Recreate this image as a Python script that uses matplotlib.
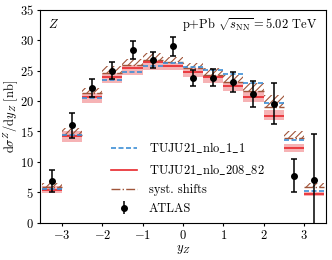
import numpy as np
import matplotlib
matplotlib.use("Agg")
import matplotlib.pyplot as plt
from matplotlib.lines import Line2D

plt.rcParams["font.family"] = ["cmr10", "DejaVu Serif"]
plt.rcParams["mathtext.fontset"] = "cm"
plt.rcParams["axes.formatter.use_mathtext"] = True
plt.rcParams["font.size"] = 9
plt.rcParams["hatch.linewidth"] = 0.8

# rapidity bins
y_centers = [-3.25, -2.75, -2.25, -1.75, -1.25, -0.75, -0.25,
             0.25, 0.75, 1.25, 1.75, 2.25, 2.75, 3.25]
bin_width = 0.5

# ATLAS data
atlas = [6.9, 16.0, 22.1, 25.0, 28.4, 26.7, 29.0, 23.8, 23.8, 23.2, 21.2, 19.6, 7.7, 7.0]
atlas_err = [1.8, 2.0, 1.5, 1.35, 1.45, 1.3, 1.55, 1.35, 1.4, 1.65, 2.1, 3.45, 2.7, 7.6]

# TUJU21_nlo_208_82 (central + band)
npdf = [5.4, 14.3, 20.6, 24.0, 25.4, 26.5, 25.8, 24.85, 23.9, 22.4, 20.6, 17.6, 12.3, 4.75]
npdf_lo = [4.9, 13.2, 19.7, 22.9, 24.3, 25.1, 25.1, 24.0, 22.9, 21.6, 19.9, 16.9, 11.7, 4.45]
npdf_hi = [6.0, 15.0, 21.3, 24.6, 25.95, 26.8, 26.3, 25.4, 24.3, 23.2, 21.6, 18.5, 12.95, 5.05]

# TUJU21_nlo_1_1 central
proton = [5.6, 14.5, 20.5, 23.5, 24.85, 25.8, 26.2, 25.55, 25.1, 24.4, 23.0, 19.65, 13.6, 5.2]

# syst. shifts envelope
syst_lo = [5.8, 14.5, 21.3, 24.6, 25.9, 26.8, 26.5, 25.4, 24.3, 23.2, 21.6, 19.1, 13.9, 5.9]
syst_hi = [6.6, 15.5, 22.1, 25.7, 27.0, 27.9, 27.3, 26.3, 25.4, 24.3, 22.9, 21.0, 15.0, 6.6]

c_blue = "#3d8fd6"
c_red = "#e8262b"
c_brown = "#a0553a"

x = np.array(y_centers)
x0 = x - bin_width / 2
x1 = x + bin_width / 2

fig = plt.figure(figsize=(3.32, 2.6), dpi=100)
ax = fig.add_axes([0.12, 0.1435, 0.862, 0.8185])

ax.bar(x, np.array(syst_hi) - np.array(syst_lo), bottom=syst_lo, width=bin_width,
       color="none", edgecolor=c_brown, hatch="/////", linewidth=0, zorder=2)
ax.bar(x, np.array(npdf_hi) - np.array(npdf_lo), bottom=npdf_lo, width=bin_width,
       color=c_red, alpha=0.35, linewidth=0, zorder=1)
ax.hlines(syst_lo, x0, x1, colors=c_brown, linestyles="-.", linewidth=1.0, zorder=3)
ax.hlines(npdf, x0, x1, colors=c_red, linewidth=1.2, zorder=3)
ax.hlines(proton, x0, x1, colors=c_blue, linestyles=(0, (3, 1.5)), linewidth=1.2, zorder=3)
ax.errorbar(x, atlas, yerr=atlas_err, fmt="o", color="black", markersize=4,
            capsize=2, elinewidth=1.1, capthick=1.1, zorder=5)

ax.set_xlim(-3.55, 3.55)
ax.set_ylim(0, 35)
ax.set_xticks([-3, -2, -1, 0, 1, 2, 3])
ax.set_yticks([0, 5, 10, 15, 20, 25, 30, 35])
ax.tick_params(length=2.5, pad=2)
ax.set_xlabel(r"$y_Z$", labelpad=1)
ax.set_ylabel(r"$\mathrm{d}\sigma^Z/\mathrm{d}y_Z$ [nb]")
ax.yaxis.set_label_coords(-0.068, 0.5)

ax.text(0.03, 0.93, r"$Z$", transform=ax.transAxes, va="center", ha="left")
ax.text(0.97, 0.93, r"p+Pb $\sqrt{s_{\mathrm{NN}}} = 5.02$ TeV",
        transform=ax.transAxes, va="center", ha="right")

handles = [
    Line2D([], [], color=c_blue, linestyle=(0, (3, 1.5)), linewidth=1.2),
    Line2D([], [], color=c_red, linewidth=1.2),
    Line2D([], [], color=c_brown, linestyle="-.", linewidth=1.0),
    ax.errorbar([], [], yerr=[], fmt="o", color="black", markersize=4,
                capsize=2, elinewidth=1.1),
]
labels = [r"$\mathrm{TUJU21\_nlo\_1\_1}$", r"$\mathrm{TUJU21\_nlo\_208\_82}$",
          "syst. shifts", "ATLAS"]
ax.legend(handles, labels, loc="upper left", bbox_to_anchor=(0.21, 0.44),
          frameon=False, handlelength=2.1, handletextpad=0.9, labelspacing=0.55,
          borderpad=0.4)

fig.savefig("out.png", dpi=100)
